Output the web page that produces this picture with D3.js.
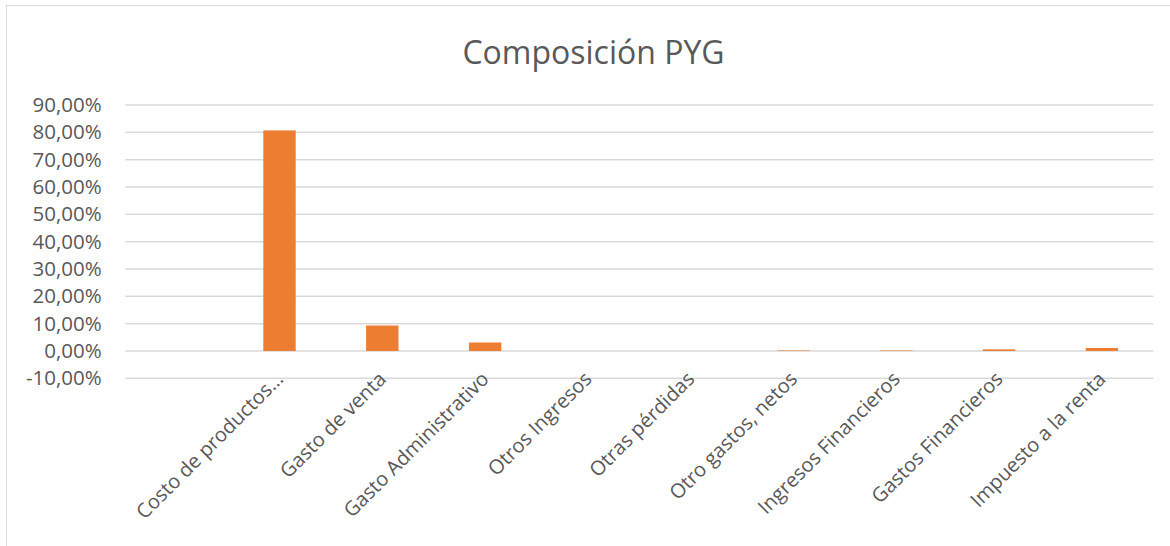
<!DOCTYPE html>
<html>
<head>
<meta charset="utf-8">
<script src="https://cdn.jsdelivr.net/npm/d3@7"></script>
<style>
  html, body { margin: 0; padding: 0; background: #fff; }
  svg { display: block; }
  text { font-family: "Open Sans", "Noto Sans", sans-serif; fill: #595959; }
</style>
</head>
<body>
<svg id="chart" width="1170" height="546"></svg>
<script>
const title = "Composición PYG";
const categories = [
  "",
  "Costo de productos…",
  "Gasto de venta",
  "Gasto Administrativo",
  "Otros Ingresos",
  "Otras pérdidas",
  "Otro gastos, netos",
  "Ingresos Financieros",
  "Gastos Financieros",
  "Impuesto a la renta"
];
const values = [null, 0.807, 0.093, 0.031, 0, 0, 0.002, 0.002, 0.006, 0.011];
const tickValues = [-0.1, 0, 0.1, 0.2, 0.3, 0.4, 0.5, 0.6, 0.7, 0.8, 0.9];
const tickLabels = ["-10,00%", "0,00%", "10,00%", "20,00%", "30,00%", "40,00%", "50,00%", "60,00%", "70,00%", "80,00%", "90,00%"];

const svg = d3.select("#chart");
const plot = { left: 125.3, right: 1153.3, top: 105, bottom: 378.3 };

// chart border (clipped on right/bottom like the reference)
svg.append("rect")
  .attr("x", 6.5).attr("y", 5.5)
  .attr("width", 1300).attr("height", 700)
  .attr("fill", "none").attr("stroke", "#D9D9D9").attr("stroke-width", 1);

svg.append("text")
  .attr("x", 593.5).attr("y", 63.5)
  .attr("text-anchor", "middle")
  .style("font-size", "32px")
  .text(title);

const x = d3.scaleBand()
  .domain(categories.map((c, i) => i))
  .range([plot.left, plot.right])
  .paddingInner(0.685)
  .paddingOuter(0.3425);

const y = d3.scaleLinear()
  .domain([-0.1, 0.9])
  .range([plot.bottom, plot.top]);

// gridlines
svg.append("g")
  .selectAll("line")
  .data(tickValues)
  .join("line")
  .attr("x1", plot.left).attr("x2", plot.right)
  .attr("y1", d => y(d)).attr("y2", d => y(d))
  .attr("stroke", "#D9D9D9").attr("stroke-width", 1.5);

// y axis labels
const yAxis = d3.axisLeft(y)
  .tickValues(tickValues)
  .tickFormat((d, i) => tickLabels[i])
  .tickSize(0)
  .tickPadding(0);
const gy = svg.append("g")
  .attr("transform", `translate(${101.7},0)`)
  .call(yAxis);
gy.select(".domain").remove();
gy.selectAll("text")
  .attr("fill", "#595959")
  .style("font-family", '"Open Sans", "Noto Sans", sans-serif')
  .style("font-size", "20.5px");

// bars
svg.append("g")
  .selectAll("rect")
  .data(values.map((v, i) => ({ v, i })).filter(d => d.v !== null))
  .join("rect")
  .attr("x", d => x(d.i))
  .attr("width", x.bandwidth())
  .attr("y", d => y(Math.max(0, d.v)))
  .attr("height", d => Math.abs(y(d.v) - y(0)))
  .attr("fill", "#ED7D31");

// x axis labels (rotated)
const xAxis = d3.axisBottom(x)
  .tickFormat(i => categories[i])
  .tickSize(0)
  .tickPadding(0);
const gx = svg.append("g")
  .attr("transform", `translate(0,${plot.bottom})`)
  .call(xAxis);
gx.select(".domain").remove();
gx.selectAll("text")
  .attr("fill", "#595959")
  .style("font-family", '"Open Sans", "Noto Sans", sans-serif')
  .style("font-size", "20px")
  .attr("text-anchor", "end")
  .attr("dy", null)
  .attr("y", 0)
  .attr("transform", "translate(5,2) rotate(-45)");
</script>
</body>
</html>
